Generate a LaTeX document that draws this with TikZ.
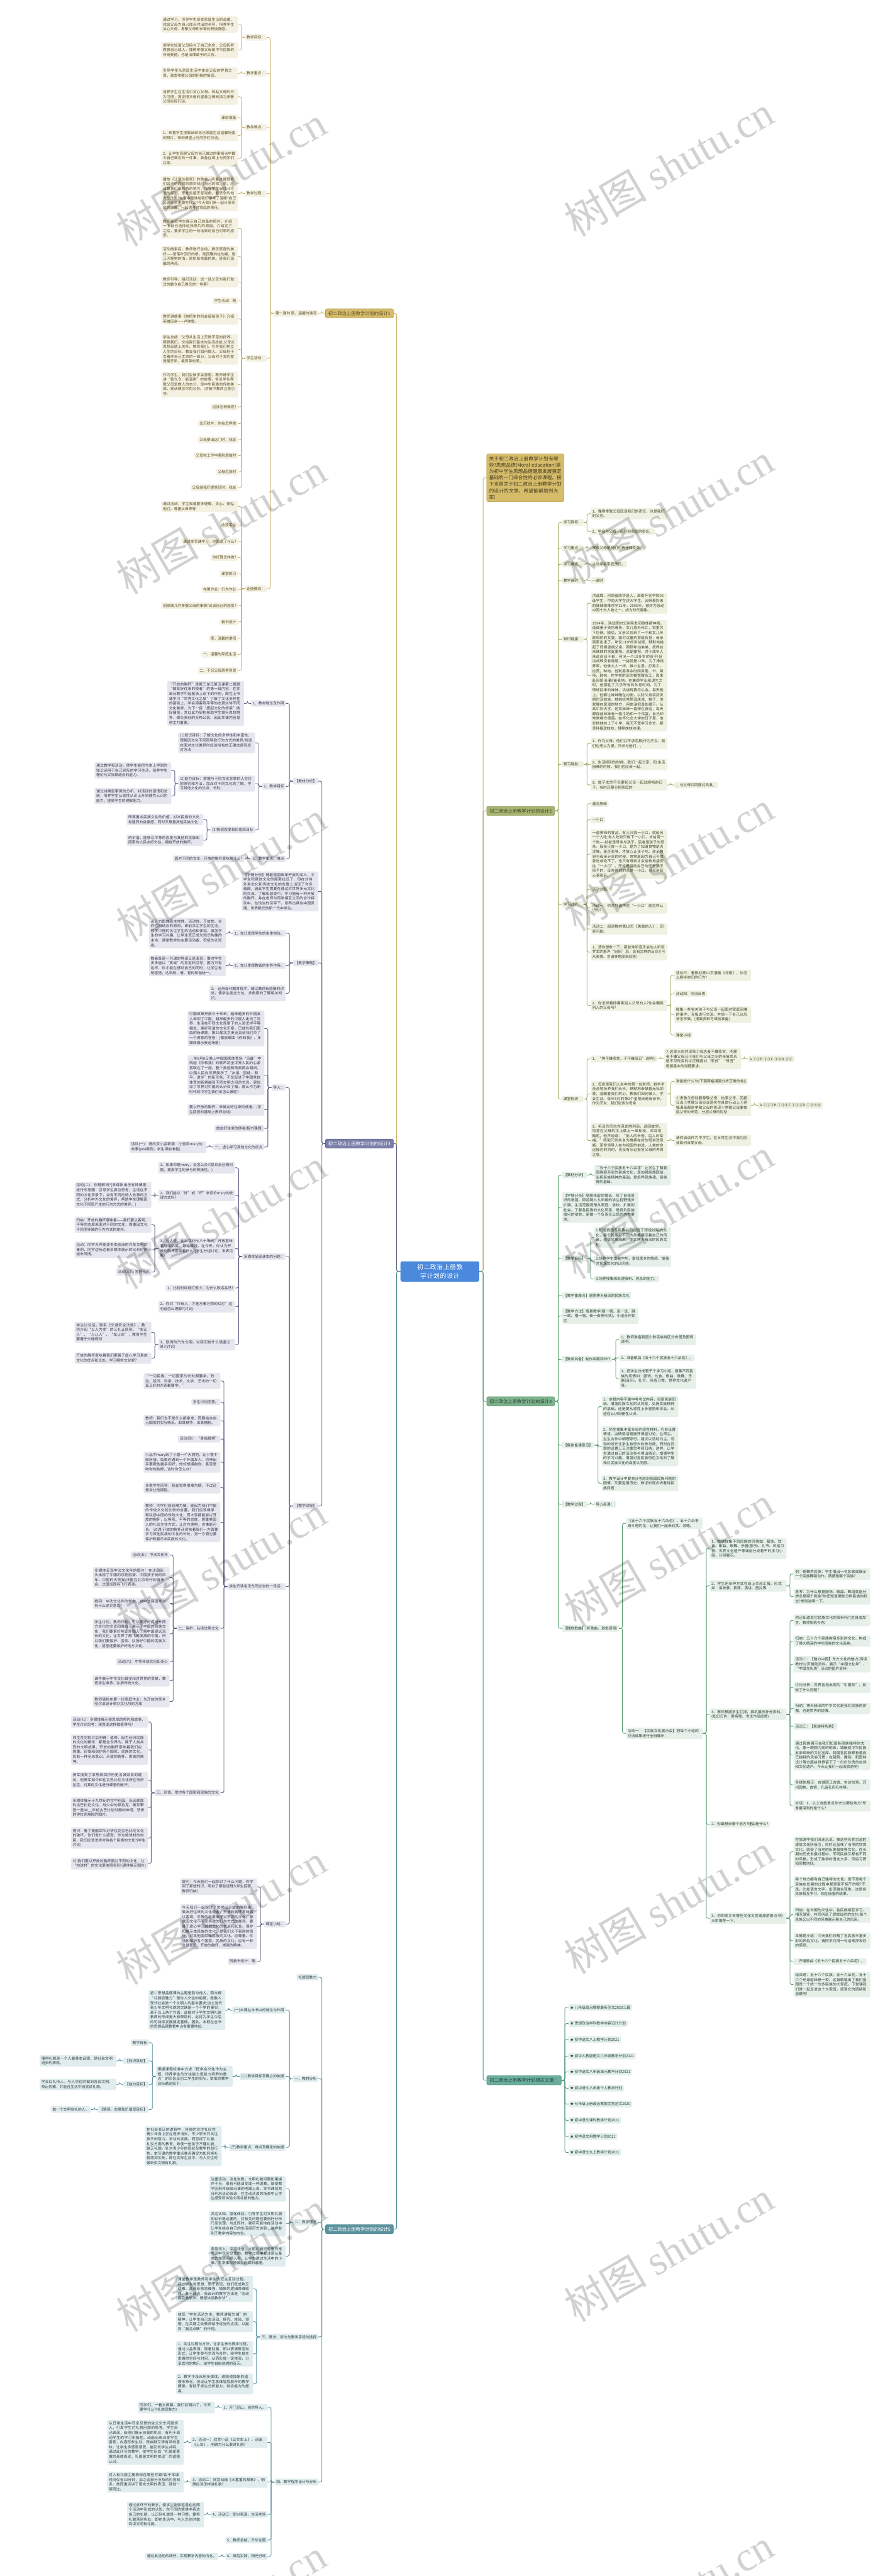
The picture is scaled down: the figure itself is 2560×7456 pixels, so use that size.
\documentclass[tikz,border=0pt]{standalone}
\usepackage{fontspec}
\setmainfont{Noto Sans CJK SC}
\newfontfamily\wmlatin{Liberation Serif}
\XeTeXlinebreaklocale "zh"
\XeTeXlinebreakskip=0pt plus 1pt
\definecolor{hubblue}{HTML}{4A89DC}
\definecolor{goldln}{HTML}{C9B46B}
\definecolor{goldbox}{HTML}{F4F1E3}
\definecolor{goldtxt}{HTML}{5A4B22}
\definecolor{goldbr}{HTML}{D5BC6B}
\definecolor{goldbrd}{HTML}{B89C4A}
\definecolor{oliveln}{HTML}{A0AE66}
\definecolor{olivebox}{HTML}{EFF1E3}
\definecolor{olivetxt}{HTML}{3E4424}
\definecolor{olivebr}{HTML}{A7B571}
\definecolor{olivebrd}{HTML}{8D9C57}
\definecolor{slateln}{HTML}{5D6183}
\definecolor{slatebox}{HTML}{E6E7EE}
\definecolor{slatetxt}{HTML}{35374A}
\definecolor{slatebr}{HTML}{7A7FA9}
\definecolor{greenln}{HTML}{5E9F76}
\definecolor{greenbox}{HTML}{E6F0E9}
\definecolor{greentxt}{HTML}{2B3F31}
\definecolor{greenbr}{HTML}{7DB48E}
\definecolor{greenbrd}{HTML}{5E9A70}
\definecolor{tealln}{HTML}{4E8896}
\definecolor{tealbox}{HTML}{E1ECEE}
\definecolor{tealtxt}{HTML}{2C3D43}
\definecolor{tealbr}{HTML}{5D93A0}
\definecolor{relln}{HTML}{4F9685}
\definecolor{relbox}{HTML}{E3EFEB}
\definecolor{reltxt}{HTML}{294039}
\definecolor{relbr}{HTML}{6AAF9D}

\begin{document}
\begin{tikzpicture}[x=1pt, y=-1pt,
    box/.style={rounded corners=4pt, inner xsep=5pt, inner ysep=4.5pt, align=left,
                font=\fontsize{10.6}{13.8}\selectfont},
    wide/.style={box, text width=212pt},
    gtag/.style={box, fill=goldbox, text=goldtxt, anchor=east},
    gbox/.style={wide, fill=goldbox, text=goldtxt, anchor=east},
    stag/.style={box, fill=slatebox, text=slatetxt, anchor=east},
    sbox/.style={wide, fill=slatebox, text=slatetxt, anchor=east},
    ttag/.style={box, fill=tealbox, text=tealtxt, anchor=east},
    tbox/.style={wide, fill=tealbox, text=tealtxt, anchor=east},
    otag/.style={box, fill=olivebox, text=olivetxt, anchor=west},
    obox/.style={wide, fill=olivebox, text=olivetxt, anchor=west},
    vtag/.style={box, fill=greenbox, text=greentxt, anchor=west},
    vbox/.style={wide, fill=greenbox, text=greentxt, anchor=west},
    rtag/.style={box, fill=relbox, text=reltxt, anchor=west},
    branch/.style={rounded corners=4pt, inner xsep=8pt, inner ysep=7pt, line width=1pt,
                   font=\fontsize{13.3}{16}\selectfont},
    hub/.style={fill=hubblue, text=white, rounded corners=5pt, text width=200pt, align=center,
                inner xsep=14pt, inner ysep=8pt, font=\fontsize{18}{26}\selectfont},
    note/.style={fill=goldbr, draw=goldbrd, text=goldtxt!70!black, rounded corners=4pt,
                 text width=210pt, align=left, inner sep=7pt, font=\fontsize{14}{18.6}\selectfont},
    gl/.style={draw=goldln, line width=1.6pt, rounded corners=5pt},
    sl/.style={draw=slateln, line width=1.6pt, rounded corners=5pt},
    tl/.style={draw=tealln, line width=1.6pt, rounded corners=5pt},
    ol/.style={draw=oliveln, line width=1.6pt, rounded corners=5pt},
    vl/.style={draw=greenln, line width=1.6pt, rounded corners=5pt},
    rl/.style={draw=relln, line width=1.6pt, rounded corners=5pt},
    wm/.style={rotate=30, text=black, text opacity=0.18, font=\fontsize{120}{120}\selectfont}]

  \path[use as bounding box, fill=white] (0,0) rectangle (2560,7456);

  \node[hub] (hub) at (1273,3680) {初二政治上册教学计划的设计};

  % ---- design 1
  \node[branch, fill=goldbr, draw=goldbrd, text=goldtxt, anchor=east] (one) at ([xshift=-20pt]hub.west |- 0,907) {初二政治上册教学计划的设计1};
  \node[gtag] (one0) at ([xshift=-20pt]one.west |- 0,907) {第一课时 家，温馨的港湾};
  \node[gtag] (mb) at ([xshift=-20pt]one0.west |- 0,108) {教学目标：};
  \node[gtag] (zd) at ([xshift=-20pt]one0.west |- 0,212) {教学重点：};
  \node[gtag] (nd) at ([xshift=-20pt]one0.west |- 0,369) {教学难点：};
  \node[gtag] (gc) at ([xshift=-20pt]one0.west |- 0,560) {教学过程：};
  \node[gtag] (hd) at ([xshift=-20pt]one0.west |- 0,1037) {学生活动：};
  \node[gtag] (hn) at ([xshift=-20pt]one0.west |- 0,1704) {还能做到：};
  \node[gbox] (mb1) at ([xshift=-20pt]mb.west |- 0,71) {通过学习，引导学生感受家庭生活的温暖，体会父母为自己成长付出的辛劳，培养学生关心父母、孝敬父母和长辈的积极情感。};
  \node[gbox] (mb2) at ([xshift=-20pt]mb.west |- 0,145) {使学生知道父母给与了自己生命，父母抚养教育自己成人，懂得孝敬父母是中华民族的传统美德，也是法律赋予的义务。};
  \node[gbox] (zd1) at ([xshift=-20pt]zd.west |- 0,212) {引导学生从家庭生活中体会父母的养育之恩，激发孝敬父母的积极的情感。};
  \node[gbox] (nd1) at ([xshift=-20pt]nd.west |- 0,280) {培养学生在生活中关心父母、体贴父母的行为习惯，真正把父母的感激之情转换为孝敬父母实际行动。};
  \node[gtag] (nd2) at ([xshift=-20pt]nd.west |- 0,340) {课前准备};
  \node[gbox] (nd3) at ([xshift=-20pt]nd.west |- 0,392) {1、布置学生搜集反映自己家庭生活温馨场面的照片，带到课堂上与同学们交流。};
  \node[gbox] (nd4) at ([xshift=-20pt]nd.west |- 0,458) {2、让学生回顾父母为自己做过的事情当中最令自己难忘的一件事，准备在课上与同学们共享。};
  \node[gbox] (gc1) at ([xshift=-20pt]gc.west |- 0,560) {播放《让爱住我家》的歌曲，听着这首歌我们会不约而同的想到我们自己的家，家，应该是我们最熟悉的地方，指导学生阅读《可爱的家》，思考走遍天涯海角，最思念的地方是什么?在家中是谁给我们带来了温暖?自己又该给家里做些什么?今天我们来一起分享家庭的温馨，一起思考对家庭的责任。};
  \node[gbox] (hd1) at ([xshift=-20pt]hd.west |- 0,661) {教师组织学生展示自己准备的照片，介绍一下自己选择这张照片的原因。介绍完了之后，要求学生用一句话表达自己对家的感受。};
  \node[gbox] (hd2) at ([xshift=-20pt]hd.west |- 0,742) {活动结束后，教师进行总结，揭示家庭的美好——是落叶回归的根，是孤雁向往的巢，是江河拥抱的海，是航船依靠的岸。是我们温馨的港湾。};
  \node[gbox] (hd3) at ([xshift=-20pt]hd.west |- 0,816) {教师引导、组织活动：说一说父母为我们做过的最令自己难忘的一件事?};
  \node[gtag] (hd4) at ([xshift=-20pt]hd.west |- 0,870) {学生活动：略};
  \node[gbox] (hd5) at ([xshift=-20pt]hd.west |- 0,923) {教师讲故事《她把生的机会留给孩子》介绍英雄母亲——卢映雪。};
  \node[gbox] (hd6) at ([xshift=-20pt]hd.west |- 0,1011) {学生总结：父母从生活上无微不至的抚养、照顾我们，交给我们基本的生活技能;父母从思想品德上关怀、教育我们，引导我们树立人生的目标，教会我们如何做人。父母把子女看作自己生命的一部分，父母对子女的爱是最无私、最真挚的爱。};
  \node[gbox] (hd7) at ([xshift=-20pt]hd.west |- 0,1113) {作为学生，我们应该学会感恩，教师请学生讲“香九令，能温床”的故事，告诉学生孝敬父母是做人的本分，是中华民族的传统美德，是法律应尽的义务。(讲解中教师注意引导)};
  \node[gtag] (hd8) at ([xshift=-20pt]hd.west |- 0,1178) {应该怎样做呢?};
  \node[gtag] (hd9) at ([xshift=-20pt]hd.west |- 0,1226) {出示胶片：你会怎样做};
  \node[gtag] (hd10) at ([xshift=-20pt]hd.west |- 0,1273) {父母要出远门时，我会};
  \node[gtag] (hd11) at ([xshift=-20pt]hd.west |- 0,1319) {父母在工作中遇到烦恼时};
  \node[gtag] (hd12) at ([xshift=-20pt]hd.west |- 0,1366) {父母生病时};
  \node[gtag] (hd13) at ([xshift=-20pt]hd.west |- 0,1412) {父母给我们提意见时，我会};
  \node[gbox] (hn1) at ([xshift=-20pt]hn.west |- 0,1466) {通过活动，学生知道要多理解，关心、体贴他们，尊重父母等等};
  \node[gtag] (hn2) at ([xshift=-20pt]hn.west |- 0,1520) {收获平台};
  \node[gtag] (hn3) at ([xshift=-20pt]hn.west |- 0,1567) {通过本节课学习，你知道了什么?};
  \node[gtag] (hn4) at ([xshift=-20pt]hn.west |- 0,1614) {你打算怎样做?};
  \node[gtag] (hn5) at ([xshift=-20pt]hn.west |- 0,1661) {课堂练习};
  \node[gtag] (hn6) at ([xshift=-20pt]hn.west |- 0,1707) {布置作业：行为作业};
  \node[gtag] (hn7) at ([xshift=-20pt]hn.west |- 0,1753) {回家做几件孝敬父母的事情?谈谈自己的感受?};
  \node[gtag] (hn8) at ([xshift=-20pt]hn.west |- 0,1800) {板书设计};
  \node[gtag] (hn9) at ([xshift=-20pt]hn.west |- 0,1848) {家，温馨的港湾};
  \node[gtag] (hn10) at ([xshift=-20pt]hn.west |- 0,1894) {一、温馨的家庭生活};
  \node[gtag] (hn11) at ([xshift=-20pt]hn.west |- 0,1941) {二、不忘父母恩养育恩};

  % ---- design 3
  \node[branch, fill=slatebr, draw=slateln, text=white, anchor=east] (thr) at ([xshift=-20pt]hub.west |- 0,3310) {初二政治上册教学计划的设计3};
  \node[stag] (jc) at ([xshift=-20pt]thr.west |- 0,2261) {【教材分析】};
  \node[sbox] (xq) at ([xshift=-20pt]thr.west |- 0,2580) {【学情分析】随着我国改革开放的深入，中学生和其他文化的距离拉近了，但在对待外来文化和传统文化的态度上出现了许多偏颇，因此学生需要在通过对世界多元文化的交流、了解和感受中，学习拥有一种开放的胸怀，并在老师与同学相互之间的合作探究中，在恰当的引导下，培养出具有中国灵魂、世界眼光的新一代中学生。};
  \node[stag] (cl) at ([xshift=-20pt]thr.west |- 0,2787) {【教学策略】};
  \node[stag] (sg) at ([xshift=-20pt]thr.west |- 0,4359) {【教学过程】};
  \node[stag] (jc1) at ([xshift=-20pt]jc.west |- 0,2036) {1、教材地位及作用};
  \node[stag] (jc2) at ([xshift=-20pt]jc.west |- 0,2276) {2、教学目标};
  \node[stag] (jc3) at ([xshift=-20pt]jc.west |- 0,2486) {3、教学重点、难点};
  \node[sbox] (jc1a) at ([xshift=-20pt]jc1.west |- 0,2036) {“开放的胸怀”是第三单元第五课第二框题“做友好往来的使者”的第一目内容，在本单元教学中起着承上启下的作用，即在上节课学习“世界文化之旅”了解了文化多样性的基础上，学会用客观平等的态度对待不同文化差异，为下一目“搭起文化的桥梁”做好铺垫，并以此为契机帮助学生提升思想境界，做负责任的合格公民。因此本课内容显得尤为重要。};
  \node[sbox] (jc2a) at ([xshift=-20pt]jc2.west |- 0,2150) {(1)知识目标：了解文化的多样性和丰富性，理解因文化不同而导致行为方式的差异;知道在面对文化差异时应该持有的正确态度和应对方法};
  \node[sbox] (jc2b) at ([xshift=-20pt]jc2.west |- 0,2268) {(2)能力目标：掌握与不同文化背景的人交往的原则和方法，加深对不同文化的了解，学习其他文化的优点、长处。};
  \node[stag] (jc2c) at ([xshift=-20pt]jc2.west |- 0,2402) {(3)情感态度和价值观目标};
  \node[sbox] (jc2b1) at ([xshift=-20pt]jc2b.west |- 0,2230) {通过教学和活动，使学生能把书本上学到的知识运用于自己实际的学习生活，培养学生理论与实际相结合的能力。};
  \node[sbox] (jc2b2) at ([xshift=-20pt]jc2b.west |- 0,2304) {通过对典型事例的分析，对活动的感悟和总结，培养学生从感性认识上升到理性认识的能力，提高学生的理解能力。};
  \node[sbox] (jc2c1) at ([xshift=-20pt]jc2c.west |- 0,2372) {既尊重本民族文化的价值，对本民族的文化有强烈的自豪感，同时又尊重其他民族文化};
  \node[sbox] (jc2c2) at ([xshift=-20pt]jc2c.west |- 0,2432) {的价值，能够以平等的态度与其他的民族和国家的人民友好交往，拥有开放的胸怀。};
  \node[stag] (jc3a) at ([xshift=-20pt]jc3.west |- 0,2486) {面对不同的文化，开放的胸怀意味着什么?};
  \node[stag] (cl1) at ([xshift=-20pt]cl.west |- 0,2701) {1、充分发挥学生的主体地位。};
  \node[stag] (cl2) at ([xshift=-20pt]cl.west |- 0,2795) {2、充分发挥教者的主导作用。};
  \node[sbox] (cl3) at ([xshift=-20pt]cl.west |- 0,2875) {3、 运用现代教育技术，辅以教师有感情的讲述，使学生能全方位、多角度的了解相关知识。};
  \node[sbox] (cl1a) at ([xshift=-20pt]cl1.west |- 0,2701) {设计力图体现主体性、活动性、开放性、合作性相结合的原则，课前关注学生的生活，教学中随时关注学生的活动和体验，激发学生的学习兴趣，让学生真正成为知识构建的主体、课堂教学的主要活动者、积极的认知者。};
  \node[sbox] (cl2a) at ([xshift=-20pt]cl2.west |- 0,2795) {教者既是一节课的导演又是演员，要对学生多多施以“真诚”的肯定和引导，因为只有这样，你才能在感动自己的同时，让学生有所感悟，达到知、情、意的和谐统一。};
  \node[stag] (dr) at ([xshift=-20pt]sg.west |- 0,3148) {导入：};
  \node[stag] (dm) at ([xshift=-20pt]sg.west |- 0,3637) {多媒体呈现课本的问题：};
  \node[stag] (qd) at ([xshift=-20pt]sg.west |- 0,4592) {学生齐读毛泽东同志说的一段话：};
  \node[stag] (xj) at ([xshift=-20pt]sg.west |- 0,5569) {课堂小结：};
  \node[sbox] (dr1) at ([xshift=-20pt]dr.west |- 0,2977) {中国改革开放三十年来，越来越多的外国友人来到了中国，越来越多的中国人走向了世界，生活在不同文化背景下的人该怎样平等相处、奏好和谐的文化乐章，已成为我们面临的新课题，第29届北京奥运会给我们交了一个满意的答卷：(播放歌曲《你和我》，多媒体展示奥运场景)};
  \node[sbox] (dr2) at ([xshift=-20pt]dr.west |- 0,3112) {\_\_年8月8日晚上中国国家体育场“鸟巢”中响起《你和我》的歌声将全世界人民的心紧紧联在了一起，整个奥运和残奥两会期间，中国人民向世界展示了“友谊、团结、和平、进步”的新形象，不仅促进了中国竞技体育的新跨越和不同文明之间的交流，更加深了世界对中国的认识和了解。那么作为新时代的中学生我们该怎么做呢?};
  \node[sbox] (dr3) at ([xshift=-20pt]dr.west |- 0,3212) {要以开放的胸怀，来做友好往来的使者。(学生回答的基础上教师总结)};
  \node[stag] (dr4) at ([xshift=-20pt]dr.west |- 0,3266) {做友好往来的使者(板书课题)};
  \node[stag] (dr5) at ([xshift=-20pt]dr.west |- 0,3320) {一、虚心学习其他文化的优点};
  \node[sbox] (dr5a) at ([xshift=-20pt]dr5.west |- 0,3320) {活动(一)：请欣赏小品表演：小雪和mary的故事(p64案例，学生课前准备)};
  \node[sbox] (dm1) at ([xshift=-20pt]dm.west |- 0,3380) {1、如果你是mary，会怎么办?(联系自己想问题，提高学生的参与的积极性。)};
  \node[sbox] (dm2) at ([xshift=-20pt]dm.west |- 0,3460) {2、我们能以“好”或“坏”来评价mary的处理方式吗?};
  \node[sbox] (dm3) at ([xshift=-20pt]dm.west |- 0,3614) {3、有人说，在20世纪七八十年代，开放意味着穿喇叭裤、戴蛤蟆镜。在今天，你认为开放的胸怀意味着什么?(学生分组讨论，发表见解)};
  \node[stag] (dm4) at ([xshift=-20pt]dm.west |- 0,3728) {1、比利时红绿灯很少，为什么秩序井然?};
  \node[sbox] (dm5) at ([xshift=-20pt]dm.west |- 0,3782) {2、你对“只有人，才是万事万物的红灯”这句话怎么理解?(讨论)};
  \node[sbox] (dm6) at ([xshift=-20pt]dm.west |- 0,3892) {3、欧洲的汽车文明，对我们有什么借鉴之处?(讨论)};
  \node[sbox] (dm2a) at ([xshift=-20pt]dm2.west |- 0,3459) {活动(二)：你理解吗?(多媒体出示五种情景进行示意图：引导学生换位思考，生活在不同的文化背景下，会有不同的待人处事的方式，分析中外文化的差异，帮助学生理解因文化不同而产生的行为方式的差异。)};
  \node[sbox] (dm3a) at ([xshift=-20pt]dm3.west |- 0,3545) {归纳：开放的胸怀意味着——我们要以客观、平等的态度来面对不同的文化，尊重因文化不同而导致的行为方式的差异。};
  \node[sbox] (dm3b) at ([xshift=-20pt]dm3.west |- 0,3617) {活动：同学大声朗读书本欧洲的汽车文明的事例，同学边听边看多媒体展示的比利时的城市风情。};
  \node[stag] (dm3c) at ([xshift=-20pt]dm3.west |- 0,3682) {活动(三)：各抒己见};
  \node[sbox] (dm6a) at ([xshift=-20pt]dm6.west |- 0,3856) {学生讨论后，联系《交通安全法规》，教师介绍“以人为本”的三礼让原则，“车让人”、“人让人”、“车让车”，教育学生要遵守交通规则};
  \node[sbox] (dm6b) at ([xshift=-20pt]dm6.west |- 0,3931) {开放的胸怀意味着我们要善于虚心学习其他文化的优点和长处。学习哪些文化呢？};
  \node[sbox] (qd1) at ([xshift=-20pt]qd.west |- 0,3997) {“一切民族、一切国家的长处都要学，政治、经济、科学、技术、文学、艺术的一切真正好的东西都要学。”};
  \node[stag] (qd2) at ([xshift=-20pt]qd.west |- 0,4058) {学生讨论回答。};
  \node[sbox] (qd3) at ([xshift=-20pt]qd.west |- 0,4112) {教师：我们也不是什么都拿来，而要结合自己国家的实际情况，取其精华，去其糟粕。};
  \node[stag] (qd4) at ([xshift=-20pt]qd.west |- 0,4165) {活动(四)：“身临其境”};
  \node[sbox] (qd5) at ([xshift=-20pt]qd.west |- 0,4232) {小品中mary给了小雪一个大拥抱，让小雪不知所措。如果你遇到一个外国友人，你伸出手要跟他握手问好，他却想拥抱你，甚至是吻你的脸颊，这时你怎么办?};
  \node[sbox] (qd6) at ([xshift=-20pt]qd.west |- 0,4306) {多数学生回答：我会觉得很难为情，不过还是会让他拥抱。};
  \node[sbox] (qd7) at ([xshift=-20pt]qd.west |- 0,4406) {教师：同学们感到难为情，是因为我们中国的传统文化就比较的含蓄，我们应该继承和弘扬中国的传统文化，而大家都能够以开放的胸怀，以客观、平等的态度，尊重美国人的礼仪交往方式，让对方拥抱，也难能可贵。(过渡)开放的胸怀还意味着我们一方面要学习其他民族的文化的长处，另一方面也要保护和展示本民族的文化。};
  \node[stag] (qd8) at ([xshift=-20pt]qd.west |- 0,4713) {二、保护、弘扬优秀文化};
  \node[stag] (qd9) at ([xshift=-20pt]qd.west |- 0,5189) {三、珍惜、爱护各个国家和民族的文化};
  \node[stag] (qd8a) at ([xshift=-20pt]qd8.west |- 0,4501) {活动(五)：中法文化年};
  \node[sbox] (qd8b) at ([xshift=-20pt]qd8.west |- 0,4566) {多媒体呈现中法文化年的图片：在法国街头出现了中国的京剧脸谱、中国孩子玩的风车、中国的大熊猫;法国在北京举行的音乐会、法国巡逻兵飞行表演。};
  \node[sbox] (qd8c) at ([xshift=-20pt]qd8.west |- 0,4641) {提问：中法文化年的举办，对中法两国来说有什么现实意义?};
  \node[sbox] (qd8d) at ([xshift=-20pt]qd8.west |- 0,4729) {学生讨论，教师归纳：可以更好的促进东西方文化的交流和融合，展示了中国的民族文化，我们要更好地让外国人了解中国源远流长的文化，让世界了解飞速发展的中国，所以我们要保护、宣传、弘扬好中国的民族文化，甚至还要保护好地方文化。};
  \node[stag] (qd8e) at ([xshift=-20pt]qd8.west |- 0,4810) {活动(六)：中华传统文化知多少};
  \node[sbox] (qd8f) at ([xshift=-20pt]qd8.west |- 0,4865) {课件展示中华文化瑰宝和对世界的贡献，教育学生继承、弘扬传统文化。};
  \node[sbox] (qd8g) at ([xshift=-20pt]qd8.west |- 0,4925) {教师借机布置一份家庭作业：为开放的家乡哈尔滨设计举办文化月的方案};
  \node[sbox] (qd9a) at ([xshift=-20pt]qd9.west |- 0,4984) {活动(七)：多媒体展示梁思成的照片和故事，学生讨论思考：梁思成这样做值得吗?};
  \node[sbox] (qd9b) at ([xshift=-20pt]qd9.west |- 0,5064) {师生共同探讨后明确：值得，因为任何民族的文化的精华，都是全世界的，属于人类共同的文明成果，开放的胸怀意味着我们应尊重、珍惜和保护各个国家、民族的文化。应有一种全球意识、开放的胸怀、崇高的精神。};
  \node[sbox] (qd9c) at ([xshift=-20pt]qd9.west |- 0,5152) {美军接受了梁思成保护历史名城奈良的建议，但美军如今却在古巴比伦文化所在地伊拉克，对其的文化进行肆意的破坏。};
  \node[sbox] (qd9d) at ([xshift=-20pt]qd9.west |- 0,5232) {多媒体展示十九世纪的空中花园、永远辉煌的古巴比伦文化、战火中的伊拉克、美军攀登一座40\_\_年前古巴比伦时期的神塔、悲惨的伊拉克难民的图片。};
  \node[sbox] (qd9e) at ([xshift=-20pt]qd9.west |- 0,5320) {提问：看了美国军队对伊拉克古巴比伦文化的破坏，你们有什么感受，作为地球村的村民，我们应该怎样对待各个民族的文化?(学生讨论)};
  \node[sbox] (qd9f) at ([xshift=-20pt]qd9.west |- 0,5394) {对!我们要以开放的胸怀面对不同的文化，让“地球村”的文化更绚丽多彩!(课件展示图片)};
  \node[sbox] (xj1) at ([xshift=-20pt]xj.west |- 0,5461) {提问：今天我们一起探讨了什么问题，你学到了那些知识，明白了哪些道理?(学生回答，教师归纳)};
  \node[sbox] (xj2) at ([xshift=-20pt]xj.west |- 0,5576) {今天我们一起探讨了怎样以开放的胸怀来做友好往来的文化使者，开放的胸怀意味着以客观、平等的态度来面对不同的文化，尊重因文化不同而导致的行为方式的差异，要善于虚心学习其他文化的优点和长处。保护和展示本民族的文化，是我们义不容辞的责任，对其他国家和民族的文化，应尊重、珍惜和保护各个国家、民族的文化，应有一种全球意识、开放的胸怀、崇高的精神。};
  \node[stag] (xj3) at ([xshift=-20pt]xj.west |- 0,5677) {附板书设计：略};

  % ---- design 5
  \node[branch, fill=tealbr, draw=tealln, text=white, anchor=east] (fiv) at ([xshift=-20pt]hub.west |- 0,6452) {初二政治上册教学计划的设计5};
  \node[ttag] (lm) at ([xshift=-20pt]fiv.west |- 0,5723) {礼貌显魅力};
  \node[ttag] (fa) at ([xshift=-20pt]fiv.west |- 0,6017) {一、教材分析};
  \node[ttag] (fb) at ([xshift=-20pt]fiv.west |- 0,6432) {二、教学理念};
  \node[ttag] (fc) at ([xshift=-20pt]fiv.west |- 0,6764) {三、教法、学法与教学手段的选择};
  \node[ttag] (fd) at ([xshift=-20pt]fiv.west |- 0,7184) {四、教学程序设计与分析};
  \node[ttag] (fa1) at ([xshift=-20pt]fa.west |- 0,5818) {(一)本课在本书中的地位与作用};
  \node[ttag] (fa2) at ([xshift=-20pt]fa.west |- 0,6010) {(二)教学目标及确立的依据};
  \node[ttag] (fa3) at ([xshift=-20pt]fa.west |- 0,6215) {(三)教学重点、难点及确定的依据};
  \node[tbox] (fa1a) at ([xshift=-20pt]fa1.west |- 0,5818) {初二思想品德课的主题是我与他人，而本框“礼貌显魅力”是与人交往的前提，是融入现代社会做一个文明人的基本要求;加之当代青少年文明礼貌的欠缺是一个不争的事实。基于以上两个方面，此框对于学生文明礼貌素质的形成是大有帮助的，必将为学生今后的可持续发展奠定基础。因此，本框在全书的思想品德教育中占有重要地位。};
  \node[tbox] (fa2a) at ([xshift=-20pt]fa2.west |- 0,6010) {根据课程标准中力求“把学会交往作为主题，培养学生的交往能力是能力培养的重点”的宗旨及初二学生的实际，本框的教学目标确定如下：};
  \node[ttag] (fa2a1) at ([xshift=-20pt]fa2a.west |- 0,5912) {教学目标};
  \node[ttag] (fa2a2) at ([xshift=-20pt]fa2a.west |- 0,5965) {【知识目标】};
  \node[ttag] (fa2a3) at ([xshift=-20pt]fa2a.west |- 0,6033) {【能力目标】};
  \node[ttag] (fa2a4) at ([xshift=-20pt]fa2a.west |- 0,6106) {【情感、态度和价值观目标】};
  \node[tbox] (fa2a2a) at ([xshift=-20pt]fa2a2.west |- 0,5965) {懂得礼貌是一个人最基本品德，是社会文明进步的表现。};
  \node[tbox] (fa2a3a) at ([xshift=-20pt]fa2a3.west |- 0,6033) {学会以礼待人，与人交往时做到言谈文明、举止优雅，并能在生活中自觉讲礼貌。};
  \node[ttag] (fa2a4a) at ([xshift=-20pt]fa2a4.west |- 0,6106) {做一个文明有礼的人。};
  \node[tbox] (fa3a) at ([xshift=-20pt]fa3.west |- 0,6212) {在社会变迁的进程中，传统的交往礼仪在青少年身上正在逐步消失，不少家长只关注孩子的智力、学业的发展，而忽视了礼貌、礼仪方面的教育，致使一些孩子不懂礼貌，缺乏礼貌。针对青少年的现状及教学的践行性，本节课的教学重点难点确定为如何将礼貌落到实处，即在实际生活中，与人交往时做到讲文明有礼貌。};
  \node[tbox] (fb1) at ([xshift=-20pt]fb.west |- 0,6335) {注重活动，淡化说教。文明礼貌问题如果操作不当，很有可能演变成一种说教，致使教学回到传统政治课的老路上去。本节课我充分利用活动资源，在生动活泼的场景中让学生感受和体验文明礼貌的魅力。};
  \node[tbox] (fb2) at ([xshift=-20pt]fb.west |- 0,6436) {关注认知，强化体验。引导学生对文明礼貌的认识是必要的，对有关问题也要进行分析乃至说理。与此同时，我尽可能地在活动中让学生结合自己的生活经历去体验，这样有利于教学内容的内化。};
  \node[tbox] (fb3) at ([xshift=-20pt]fb.west |- 0,6530) {表层切入，深层领悟。文明礼貌问题是日常生活中司空见惯的。教学过程中我注意从基本的生活问题入手，让学生透过生活中的小事、平常事领悟做人的深刻道理。};
  \node[tbox] (fc1) at ([xshift=-20pt]fc.west |- 0,6625) {课堂教学是教师和学生的双主互动过程。初二学生有思想，乐于表现，他们既成熟又幼稚，直观形象思维强，抽象的逻辑思维较弱。基于此点，我设计的教学方法是“活动探究教学法、情感体验教学法”。};
  \node[tbox] (fc2) at ([xshift=-20pt]fc.west |- 0,6720) {体现“学生活动为主，教师讲解为辅”的精神，让学生自己去活动、探究、体验、领悟，在关键之处教师给予适当的点拨，以起到“画龙点睛”的作用。};
  \node[tbox] (fc3) at ([xshift=-20pt]fc.west |- 0,6813) {1、关注过程与方法，让学生参与教学过程，通过小品表演、观看动画、即兴表演等活动形式，让学生参与交流与合作，给学生自主发展的空间与时间，从而形成一定体验，分享成功的快乐，给学生自由驰骋的蓝天。};
  \node[tbox] (fc4) at ([xshift=-20pt]fc.west |- 0,6900) {2、教学手段采用多媒体，进而使抽象的道理形象化，创设让学生思维层层展开的教学情景，有助于学生分析能力、综合能力的提高。};
  \node[ttag] (fd1) at ([xshift=-20pt]fd.west |- 0,6968) {1、开门见山，自然导入。};
  \node[tbox] (fd2) at ([xshift=-20pt]fd.west |- 0,7069) {2、活动一：欣赏小品《公交车上》、动画《上车》，明确为什么要讲礼貌?};
  \node[tbox] (fd3) at ([xshift=-20pt]fd.west |- 0,7184) {3、活动二：欣赏动画《大蓄蓄的故事》，明确应该怎样讲礼貌?};
  \node[ttag] (fd4) at ([xshift=-20pt]fd.west |- 0,7278) {4、活动三：即兴表演，生活考场};
  \node[ttag] (fd5) at ([xshift=-20pt]fd.west |- 0,7352) {5、教师总结，升华全篇};
  \node[ttag] (fd6) at ([xshift=-20pt]fd.west |- 0,7399) {6、课后实践，阳光行动};
  \node[tbox] (fd1a) at ([xshift=-20pt]fd1.west |- 0,6968) {同学们，一看大屏幕，我们就明白了，今天要学什么?(礼貌显魅力)};
  \node[tbox] (fd2a) at ([xshift=-20pt]fd2.west |- 0,7069) {从日常生活中司空见惯的坐公交车问题切入，引发学生对礼貌问题的思考。学生自己表演，给他们展示自我的机会，有利于调动学生的学习积极性。动画历来深受学生喜爱，内容形象生动，既幽默又带有讽刺意味，让学生多感官感受，能引发学生共鸣，通过此环节的教学，使学生形成“礼貌是尊重的具体表现，礼貌是文明的体现”的道德认识。};
  \node[tbox] (fd3a) at ([xshift=-20pt]fd3.west |- 0,7184) {对人有礼貌主要表现在哪些方面?由于本课时间仅有30分钟，加之这部分涉及的内容较多，故而重点讲了语言文明的表现，其他一带而过。};
  \node[tbox] (fd4a) at ([xshift=-20pt]fd4.west |- 0,7278) {通过此环节的教学，使学生能够运用在前两个活动中形成的认知，在不同的情境中表达自己的礼貌，认识到礼貌是一种习惯，要将礼貌落到实处，即在生活中，与人交往时做到讲文明有礼貌。};
  \node[ttag] (fd6a) at ([xshift=-20pt]fd6.west |- 0,7399) {通过此活动的践行，实现教学内容的内化。};

  % ---- right side
  \node[note, anchor=west] (note) at ([xshift=21pt]hub.east |- 0,1383) {关于初二政治上册教学计划有哪些?思想品德(Moral education)是为初中学生思想品德健康发展奠定基础的一门综合性的必修课程。接下来是关于初二政治上册教学计划的设计的文章，希望能帮助到大家!};

  % ---- design 2
  \node[branch, fill=olivebr, draw=olivebrd, text=olivetxt, anchor=west] (two) at ([xshift=21pt]hub.east |- 0,2347) {初二政治上册教学计划的设计2};
  \node[otag] (xm) at ([xshift=20pt]two.east |- 0,1512) {学习目标：};
  \node[otag] (xz) at ([xshift=20pt]two.east |- 0,1586) {学习重点：};
  \node[otag] (xn) at ([xshift=20pt]two.east |- 0,1633) {学习难点：};
  \node[otag] (ks) at ([xshift=20pt]two.east |- 0,1680) {教学课时：};
  \node[otag] (zl) at ([xshift=20pt]two.east |- 0,1850) {知识链接：};
  \node[otag] (yx) at ([xshift=20pt]two.east |- 0,2212) {预习导航：};
  \node[otag] (xg) at ([xshift=20pt]two.east |- 0,2618) {学习过程：};
  \node[otag] (jcx) at ([xshift=20pt]two.east |- 0,3181) {课堂检测：};
  \node[obox] (xm1) at ([xshift=20pt]xm.east |- 0,1487) {1、懂得孝敬父母既是我们的责任，也是我们的义务。};
  \node[otag] (xm2) at ([xshift=20pt]xm.east |- 0,1539) {2、学会与父母一起分担家庭的责任。};
  \node[otag] (xz1) at ([xshift=20pt]xz.east |- 0,1586) {孝敬父母是我们的责任和义务。};
  \node[otag] (xn1) at ([xshift=20pt]xn.east |- 0,1633) {主动承担家庭责任。};
  \node[otag] (ks1) at ([xshift=20pt]ks.east |- 0,1680) {一课时};
  \node[obox] (zl1) at ([xshift=20pt]zl.east |- 0,1746) {洪战辉，河南省西华县人，湖南怀化学院03级学生，中南大学在读大学生。因带着捡来的妹妹艰难求学12年，2005年，被评为感动中国十大人物之一，成为时代偶像。};
  \node[obox] (zl2) at ([xshift=20pt]zl.east |- 0,1956) {1994年，洪战辉的父亲突发间歇性精神病，造成妻子受伤骨折，女儿意外死亡，家里欠下巨债。随后，父亲又捡来了一个和女儿年龄相仿的女婴。面对沉重的家庭负担，母亲离家出走了。年仅13岁的洪战辉，默默地挑起了伺候患病父亲、照顾年幼弟弟、抚养捡来妹妹的家庭重担。这副重担，对于成年人来说尚且不易，何况一个10多岁的孩子!但洪战辉没有退缩，一挑就是12年。为了挣钱养家，他像大人一样，做小生意，打零工，捡荒，种地。他利用课余时间卖笔、书、磁带、鞋袜，在学校附近的餐馆做杂工，周末赶回家浇灌8亩麦地。在兼顾学业和谋生之时，他牺牲了几乎所有的休息时间。为了带好捡来的妹妹，洪战辉费尽心血。每天晚上，他都让妹妹睡在内侧，以防父亲突然发病伤及妹妹。妹妹经常尿湿床单、被子，他就睡在尿湿的地方，用体温把湿处暖干。从高中到大学，他将妹妹一直带在身边，每天都保证妹妹有一瓶牛奶和一个鸡蛋，自己却常常啃方便面。在怀化念大学的日子里，他安排妹妹上了小学，每天不管学习多忙，都坚持接送妹妹，辅导妹妹功课。};
  \node[obox] (yx1) at ([xshift=20pt]yx.east |- 0,2152) {1、作为父母，他们并不求回报;作为子女，我们也无以为报，只求与他们、。};
  \node[obox] (yx2) at ([xshift=20pt]yx.east |- 0,2213) {2、生活顺利的时候，我们一起分享、和;生活困难的时候，我们也应该一起。};
  \node[obox] (yx3) at ([xshift=20pt]yx.east |- 0,2272) {3、做子女的不仅要和父母一起过顺畅的日子，有时还要分担家庭的};
  \node[otag] (yx3a) at ([xshift=20pt]yx3.east |- 0,2272) {，与父母共同面对风浪。};
  \node[otag] (xg1) at ([xshift=20pt]xg.east |- 0,2326) {激活思维};
  \node[otag] (xg2) at ([xshift=20pt]xg.east |- 0,2373) {一小口};
  \node[obox] (xg3) at ([xshift=20pt]xg.east |- 0,2472) {一道美味的食品，有人只尝一小口，就给另一个人吃;有人吃到只剩下一小口，才给另一个吃-{}-{}-{}-前者是母亲与孩子，后者是孩子与母亲。母亲只尝一小口，是为了知道食物是否烫嘴，是否变味，才放心让孩子吃。孩子想到与母亲分享的时候，常常是因为自己不愿意吃或吃不了。也只有母亲才会愉快地接受这“一小口”。无论是留给自己的还是孩子给予的，母亲得到的总是一小口，但母亲却心满意足。};
  \node[otag] (xg4) at ([xshift=20pt]xg.east |- 0,2574) {活动过程。};
  \node[obox] (xg5) at ([xshift=20pt]xg.east |- 0,2628) {活动一：你对导语中这“一小口”是怎样认识的?};
  \node[obox] (xg6) at ([xshift=20pt]xg.east |- 0,2689) {活动二：阅读教材第10页《勇敢的人》，回答问题。};
  \node[obox] (xg7) at ([xshift=20pt]xg.east |- 0,2756) {1、请你想象一下，那些来听音乐会的人听到罗军的那声“妈妈”后，会有怎样的反应?(可从表情、言语等角度来回答)};
  \node[obox] (xg8) at ([xshift=20pt]xg.east |- 0,2910) {2、你怎样看待嘲笑别人父母的人?你会嘲笑别人的父母吗?};
  \node[obox] (xg8a) at ([xshift=20pt]xg8.east |- 0,2823) {活动三：看教材第11页漫画《邻居》，你怎么看待他们的行为?};
  \node[otag] (xg8b) at ([xshift=20pt]xg8.east |- 0,2876) {活动四：交流反思};
  \node[obox] (xg8c) at ([xshift=20pt]xg8.east |- 0,2937) {搜集一些有关孩子与父母一起面对家庭困难的事件，互相进行交流。并想一下自己以后该怎样做。(搜集资料可课前准备)};
  \node[otag] (xg8d) at ([xshift=20pt]xg8.east |- 0,2996) {课堂小结};
  \node[otag] (kc1) at ([xshift=20pt]jcx.east |- 0,3065) {1、“狗不嫌家贫，子不嫌母丑”说明()};
  \node[obox] (kc2) at ([xshift=20pt]jcx.east |- 0,3166) {2、母亲是我们人生中的第一位老师，她辛辛苦苦地抚养我们长大，默默地奉献着无私的爱，温暖着我们的心，教我们如何做人，学会生活。每年5月的第2个星期天是母亲节。作为子女，我们应该为母亲};
  \node[obox] (kc3) at ([xshift=20pt]jcx.east |- 0,3301) {3、毛泽东同志在革命胜利后，返回故里，特意在父母的坟上献上一束松枝，深深地鞠躬，轻声说道：“前人的辛苦，后人的幸福。”陈毅元帅亲自为瘫痪在床的母亲洗尿裤。革命领导人在为祖国的前途，人类的命运操劳的同时，也没有忘记报答父母的养育之恩。};
  \node[obox] (kc1a) at ([xshift=20pt]kc1.east |- 0,3065) {①这是大自然现象②有志者不嫌家贫，明理者不嫌父母丑③我们与父母之间的亲情关系是不可改变的④正确面对“家贫”“母丑”是最基本的道德要求。};
  \node[otag] (kc1b) at ([xshift=20pt]kc1a.east |- 0,3065) {A.①②B.②③C.③④D.②④};
  \node[otag] (kc2a) at ([xshift=20pt]kc2.east |- 0,3130) {准备些什么?对下面两幅漫画分析正确的有()};
  \node[obox] (kc2b) at ([xshift=20pt]kc2.east |- 0,3199) {①孝敬父母就要尊敬父母，热爱父母，回报父母②孝敬父母应该落实在具体行动上③两幅漫画都是孝敬父母的表现④孝敬父母要体贴父母的辛劳，分担父母的忧愁};
  \node[otag] (kc2c) at ([xshift=20pt]kc2b.east |- 0,3199) {A.①②③B.①③④C.①②④D.①②③④};
  \node[obox] (kc3a) at ([xshift=20pt]kc3.east |- 0,3301) {请你谈谈作为中学生，在日常生活中我们应该如何去爱父母。};

  % ---- design 4
  \node[branch, fill=greenbr, draw=greenbrd, text=greentxt, anchor=west] (four) at ([xshift=21pt]hub.east |- 0,4056) {初二政治上册教学计划的设计4};
  \node[vtag] (fj) at ([xshift=20pt]four.east |- 0,3401) {【教材分析】};
  \node[vbox] (fq) at ([xshift=20pt]four.east |- 0,3495) {【学情分析】随着年龄的增长，除了自我意识的增强，即将跨入九年级的学生视野逐步扩展，生活范围逐渐从家庭、学校、扩展到社会。了解各民族的文化风采，是肩负民族振兴的使命，是做一个负责任公民的内在要求。};
  \node[vtag] (fm) at ([xshift=20pt]four.east |- 0,3642) {【教学目标】};
  \node[vtag] (fn) at ([xshift=20pt]four.east |- 0,3750) {【教学重难点】感悟博大精深的民族文化};
  \node[vbox] (ff) at ([xshift=20pt]four.east |- 0,3809) {【教学方法】情景教学(猜一猜、说一说、跳一跳、唱一唱、奏一奏等形式)、小组合作探究};
  \node[vtag] (fz) at ([xshift=20pt]four.east |- 0,3934) {【教学准备】制作学案和PPT};
  \node[vtag] (fy) at ([xshift=20pt]four.east |- 0,4183) {【集体备课意见】};
  \node[vtag] (fg) at ([xshift=20pt]four.east |- 0,4354) {【教学过程】};
  \node[vtag] (fp) at ([xshift=20pt]four.east |- 0,4713) {【播放歌曲】(听歌曲，激发感情)};
  \node[vbox] (fj1) at ([xshift=20pt]fj.east |- 0,3401) {“五十六个民族五十六朵花”让学生了解我国绚丽多彩的民族文化，是加强民族团结、弘扬民族精神的基础，是培养民族魂、民族情的基础。};
  \node[vbox] (fm1) at ([xshift=20pt]fm.east |- 0,3582) {1.知道我国各民族共同创造了辉煌灿烂的文化，每个民族以不同的风格展示着自己的风采，感受民族风采，体会博大精深的民族文化。};
  \node[vbox] (fm2) at ([xshift=20pt]fm.east |- 0,3650) {2.培养学生爱我中华，爱我家乡的情感，增强对民族文化的认同感。};
  \node[vtag] (fm3) at ([xshift=20pt]fm.east |- 0,3702) {3.培养搜集和处理资料、信息的能力。};
  \node[vbox] (fz1) at ([xshift=20pt]fz.east |- 0,3877) {1、教师准备我国少数民族地区分布图及图例说明。};
  \node[vtag] (fz2) at ([xshift=20pt]fz.east |- 0,3930) {2、准备歌曲《五十六个民族五十六朵花》。};
  \node[vbox] (fz3) at ([xshift=20pt]fz.east |- 0,3990) {3、把学生分成若干个学习小组，搜集不同民族的风情如：服饰、饮食、歌曲、歌舞、乐器(音乐)、礼节、风俗习惯、世界文化遗产等。};
  \node[vbox] (fy1) at ([xshift=20pt]fy.east |- 0,4071) {1、本框内容不属中考考试内容，但是民族团结、增强民族文化的认同感，弘扬民族精神的基础，还是要从感性上多感悟和体会，从感性认识到理性认识。};
  \node[vbox] (fy2) at ([xshift=20pt]fy.east |- 0,4186) {2、师生搜集丰富多彩的感性材料，巧妙设置情境，由情境话题展开课堂讨论，在师生、生生合作中明理导行。建议以活动为主，活动的设计让学生有很大的参与度，同时在问题的设置上又注重思考和归纳，这样，让学生通过自己的活动参与得出结论，增强学生的学习兴趣，增强对各民族特色文化的了解和对民族文化的高度认同感。};
  \node[vbox] (fy3) at ([xshift=20pt]fy.east |- 0,4293) {3、教学设计中要充分考虑到我国民族问题的国情，又要运用历史、辩证的观点去看待民族问题};
  \node[vtag] (fg1) at ([xshift=20pt]fg.east |- 0,4354) {导入新课：};
  \node[vbox] (fp1) at ([xshift=20pt]fp.east |- 0,4409) {《五十六个民族五十六朵花》，五十六朵争奇斗艳的花，让我们一起来欣赏、领略。};
  \node[vbox] (fp2) at ([xshift=20pt]fp.east |- 0,5017) {活动一：【民族文化展示会】把每个小组的交流成果进行全班展示：};
  \node[vbox] (h1) at ([xshift=20pt]fp2.east |- 0,4482) {1、根据搜集不同民族的风情如：服饰、饮食、歌曲、歌舞、乐器(音乐)、礼节、风俗习惯、世界文化遗产等课前分成若干的学习小组，分别展示。};
  \node[vbox] (h2) at ([xshift=20pt]fp2.east |- 0,4590) {2、学生用多种方式在班上交流汇报。形式如：讲故事、表演、演讲、图片等};
  \node[vbox] (h3) at ([xshift=20pt]fp2.east |- 0,4962) {3、教师根据学生汇报，择机展示补充资料。(如幻灯片：黄帝陵、书法作品欣赏)};
  \node[vtag] (h4) at ([xshift=20pt]fp2.east |- 0,5280) {2、你最想去哪个地方?理由是什么?};
  \node[vbox] (h5) at ([xshift=20pt]fp2.east |- 0,5552) {3、你的家乡有哪些文化名胜或旅游景点?向大家推荐一下。};
  \node[vbox] (h2a) at ([xshift=20pt]h2.east |- 0,4556) {例：歌舞秀民族：学生唱出一句民歌或展示一个民族舞蹈动作，猜猜是哪个民族?};
  \node[vbox] (h2b) at ([xshift=20pt]h2.east |- 0,4621) {思考：为什么根据服饰、歌曲、舞蹈就能分辨出是哪个民族?你还知道哪些分辨民族的标志?举例说明一下。};
  \node[vbox] (h3a) at ([xshift=20pt]h3.east |- 0,4690) {你还知道其它民族文化的资料吗?(生自由发言，教师相机补充)};
  \node[vbox] (h3b) at ([xshift=20pt]h3.east |- 0,4750) {归纳：五十六个民族绚丽多彩的文化，构成了博大精深的中华民族的文化画卷。};
  \node[vbox] (h3c) at ([xshift=20pt]h3.east |- 0,4817) {活动二：【魅力中国】东方文化的魅力(阅读教材92页辅助资料，展示“中国文化年”、“中国文化周”活动的图片资料)};
  \node[vbox] (h3d) at ([xshift=20pt]h3.east |- 0,4884) {讨论分析：世界各地出现的“中国热”，反映了什么问题?};
  \node[vbox] (h3e) at ([xshift=20pt]h3.east |- 0,4945) {归纳：博大精深的中华文化是我们民族的骄傲，也是世界的骄傲。};
  \node[vtag] (h3f) at ([xshift=20pt]h3.east |- 0,4997) {活动三：【民族特色游】};
  \node[vbox] (h3g) at ([xshift=20pt]h3.east |- 0,5080) {通过民族展示会我们知道各民族独特的文化，像一颗颗闪亮的明珠，镶嵌成中华民族五彩缤纷的文化宝库。我国各民族都有着自己独特的风俗习惯，在建筑、雕刻、和园林设计等方面给世界留下了一份份珍贵的自然和文化遗产。今天让我们一起去旅游吧!};
  \node[vbox] (h3h) at ([xshift=20pt]h3.east |- 0,5166) {多媒体展示：古城丽江古城、布达拉宫、苏州园林、故宫、孔庙孔府孔林等。};
  \node[vbox] (h3i) at ([xshift=20pt]h3.east |- 0,5227) {对话：1、以上这些景点你去过哪些地方?印象最深刻的是什么?};
  \node[vbox] (h5a) at ([xshift=20pt]h5.east |- 0,5360) {在旅游中我们流连忘返，被这些名胜古迹的建筑文化所吸引，同时还品味了当地的饮食文化、感受了当地的历史服饰等文化。在长期的历史发展过程中，不同民族又都有不同的风格，形成了独特的语言文字、风俗习惯和宗教信仰。};
  \node[vbox] (h5b) at ([xshift=20pt]h5.east |- 0,5461) {每个地方都有自己独特的文化。是不是每个民族在发展的过程中都是毫不相干的呢?不是。比如语言文字，出现融合现象，这是各民族相互学习、相互借鉴的结果。};
  \node[vbox] (h5c) at ([xshift=20pt]h5.east |- 0,5542) {归纳：在长期的交往中，各民族相互学习、相互借鉴，共同创造了辉煌灿烂的文化;每个民族又以不同的风格展示着自己的风采。};
  \node[vbox] (h5d) at ([xshift=20pt]h5.east |- 0,5617) {本框题小结：今天我们领略了各民族丰富多彩的风俗文化，请同学们用一句话来抒发你的感受。};
  \node[vtag] (h5e) at ([xshift=20pt]h5.east |- 0,5677) {：齐唱歌曲《五十六个民族五十六朵花》。};
  \node[vbox] (h5f) at ([xshift=20pt]h5.east |- 0,5744) {结束语：五十六个民族，五十六朵花，五十六个兄弟姐妹是一家。这首歌唱出了我们祖国是一个统一的多民族的大家庭。下堂课我们就一起走进这个大家庭，感受它的团结和温暖吧!};

  % ---- related
  \node[branch, fill=relbr, draw=relln, text=reltxt, anchor=west] (rel) at ([xshift=21pt]hub.east |- 0,6021) {初二政治上册教学计划相关文章：};
  \node[rtag] (r1) at ([xshift=20pt]rel.east |- 0,5810) {★ 八年级政治教案最新范文2020三篇};
  \node[rtag] (r2) at ([xshift=20pt]rel.east |- 0,5857) {★ 思想政治学科教学内容设计计划};
  \node[rtag] (r3) at ([xshift=20pt]rel.east |- 0,5903) {★ 初中语文八上教学计划2021};
  \node[rtag] (r4) at ([xshift=20pt]rel.east |- 0,5951) {★ 初中人教版语文八年级教学计划2021};
  \node[rtag] (r5) at ([xshift=20pt]rel.east |- 0,5997) {★ 初中语文八年级单元教学计划2021};
  \node[rtag] (r6) at ([xshift=20pt]rel.east |- 0,6044) {★ 初中语文八年级个人教学计划};
  \node[rtag] (r7) at ([xshift=20pt]rel.east |- 0,6090) {★ 七年级上册政治教案优秀范文2020};
  \node[rtag] (r8) at ([xshift=20pt]rel.east |- 0,6137) {★ 初中语文课时教学计划2021};
  \node[rtag] (r9) at ([xshift=20pt]rel.east |- 0,6184) {★ 初中语文科教学计划2021};
  \node[rtag] (r10) at ([xshift=20pt]rel.east |- 0,6230) {★ 初中语文九上教学计划2021};

  % ---- connectors
  \draw[gl] (hub.west) -- ++(-11,0) |- (one.east);
  \draw[sl] (hub.west) -- ++(-11,0) |- (thr.east);
  \draw[tl] (hub.west) -- ++(-11,0) |- (fiv.east);
  \draw[gl] (hub.east) -- ++(11,0) |- (note.west);
  \draw[ol] (hub.east) -- ++(11,0) |- (two.west);
  \draw[vl] (hub.east) -- ++(11,0) |- (four.west);
  \draw[rl] (hub.east) -- ++(11,0) |- (rel.west);

  \foreach \p/\c in {one/one0, one0/mb, one0/zd, one0/nd, one0/gc, one0/hd, one0/hn,
      mb/mb1, mb/mb2, zd/zd1, nd/nd1, nd/nd2, nd/nd3, nd/nd4, gc/gc1,
      hd/hd1, hd/hd2, hd/hd3, hd/hd4, hd/hd5, hd/hd6, hd/hd7, hd/hd8, hd/hd9, hd/hd10, hd/hd11, hd/hd12, hd/hd13,
      hn/hn1, hn/hn2, hn/hn3, hn/hn4, hn/hn5, hn/hn6, hn/hn7, hn/hn8, hn/hn9, hn/hn10, hn/hn11}
    \draw[gl] (\p.west) -- ++(-10,0) |- (\c.east);

  \foreach \p/\c in {thr/jc, thr/xq, thr/cl, thr/sg,
      jc/jc1, jc/jc2, jc/jc3, jc1/jc1a, jc2/jc2a, jc2/jc2b, jc2/jc2c, jc2b/jc2b1, jc2b/jc2b2,
      jc2c/jc2c1, jc2c/jc2c2, jc3/jc3a, cl/cl1, cl/cl2, cl/cl3, cl1/cl1a, cl2/cl2a,
      sg/dr, sg/dm, sg/qd, sg/xj, dr/dr1, dr/dr2, dr/dr3, dr/dr4, dr/dr5, dr5/dr5a,
      dm/dm1, dm/dm2, dm/dm3, dm/dm4, dm/dm5, dm/dm6, dm2/dm2a, dm3/dm3a, dm3/dm3b, dm3/dm3c, dm6/dm6a, dm6/dm6b,
      qd/qd1, qd/qd2, qd/qd3, qd/qd4, qd/qd5, qd/qd6, qd/qd7, qd/qd8, qd/qd9,
      qd8/qd8a, qd8/qd8b, qd8/qd8c, qd8/qd8d, qd8/qd8e, qd8/qd8f, qd8/qd8g,
      qd9/qd9a, qd9/qd9b, qd9/qd9c, qd9/qd9d, qd9/qd9e, qd9/qd9f, xj/xj1, xj/xj2, xj/xj3}
    \draw[sl] (\p.west) -- ++(-10,0) |- (\c.east);

  \foreach \p/\c in {fiv/lm, fiv/fa, fiv/fb, fiv/fc, fiv/fd, fa/fa1, fa/fa2, fa/fa3, fa1/fa1a, fa2/fa2a,
      fa2a/fa2a1, fa2a/fa2a2, fa2a/fa2a3, fa2a/fa2a4, fa2a2/fa2a2a, fa2a3/fa2a3a, fa2a4/fa2a4a, fa3/fa3a,
      fb/fb1, fb/fb2, fb/fb3, fc/fc1, fc/fc2, fc/fc3, fc/fc4,
      fd/fd1, fd/fd2, fd/fd3, fd/fd4, fd/fd5, fd/fd6, fd1/fd1a, fd2/fd2a, fd3/fd3a, fd4/fd4a, fd6/fd6a}
    \draw[tl] (\p.west) -- ++(-10,0) |- (\c.east);

  \foreach \p/\c in {two/xm, two/xz, two/xn, two/ks, two/zl, two/yx, two/xg, two/jcx,
      xm/xm1, xm/xm2, xz/xz1, xn/xn1, ks/ks1, zl/zl1, zl/zl2, yx/yx1, yx/yx2, yx/yx3, yx3/yx3a,
      xg/xg1, xg/xg2, xg/xg3, xg/xg4, xg/xg5, xg/xg6, xg/xg7, xg/xg8, xg8/xg8a, xg8/xg8b, xg8/xg8c, xg8/xg8d,
      jcx/kc1, jcx/kc2, jcx/kc3, kc1/kc1a, kc1a/kc1b, kc2/kc2a, kc2/kc2b, kc2b/kc2c, kc3/kc3a}
    \draw[ol] (\p.east) -- ++(10,0) |- (\c.west);

  \foreach \p/\c in {four/fj, four/fq, four/fm, four/fn, four/ff, four/fz, four/fy, four/fg, four/fp,
      fj/fj1, fm/fm1, fm/fm2, fm/fm3, fz/fz1, fz/fz2, fz/fz3, fy/fy1, fy/fy2, fy/fy3, fg/fg1,
      fp/fp1, fp/fp2, fp2/h1, fp2/h2, fp2/h3, fp2/h4, fp2/h5, h2/h2a, h2/h2b,
      h3/h3a, h3/h3b, h3/h3c, h3/h3d, h3/h3e, h3/h3f, h3/h3g, h3/h3h, h3/h3i,
      h5/h5a, h5/h5b, h5/h5c, h5/h5d, h5/h5e, h5/h5f}
    \draw[vl] (\p.east) -- ++(10,0) |- (\c.west);

  \foreach \c in {r1, r2, r3, r4, r5, r6, r7, r8, r9, r10}
    \draw[rl] (rel.east) -- ++(10,0) |- (\c.west);

  % ---- watermarks
  \foreach \y in {510, 1516, 2522, 3528, 4534, 5540, 6546, 7552}
    \node[wm] at (640,\y) {树图 {\wmlatin shutu.cn}};
  \foreach \y in {480, 1486, 2492, 3498, 4504, 5510, 6516, 7522}
    \node[wm] at (1935,\y) {树图 {\wmlatin shutu.cn}};
\end{tikzpicture}
\end{document}
